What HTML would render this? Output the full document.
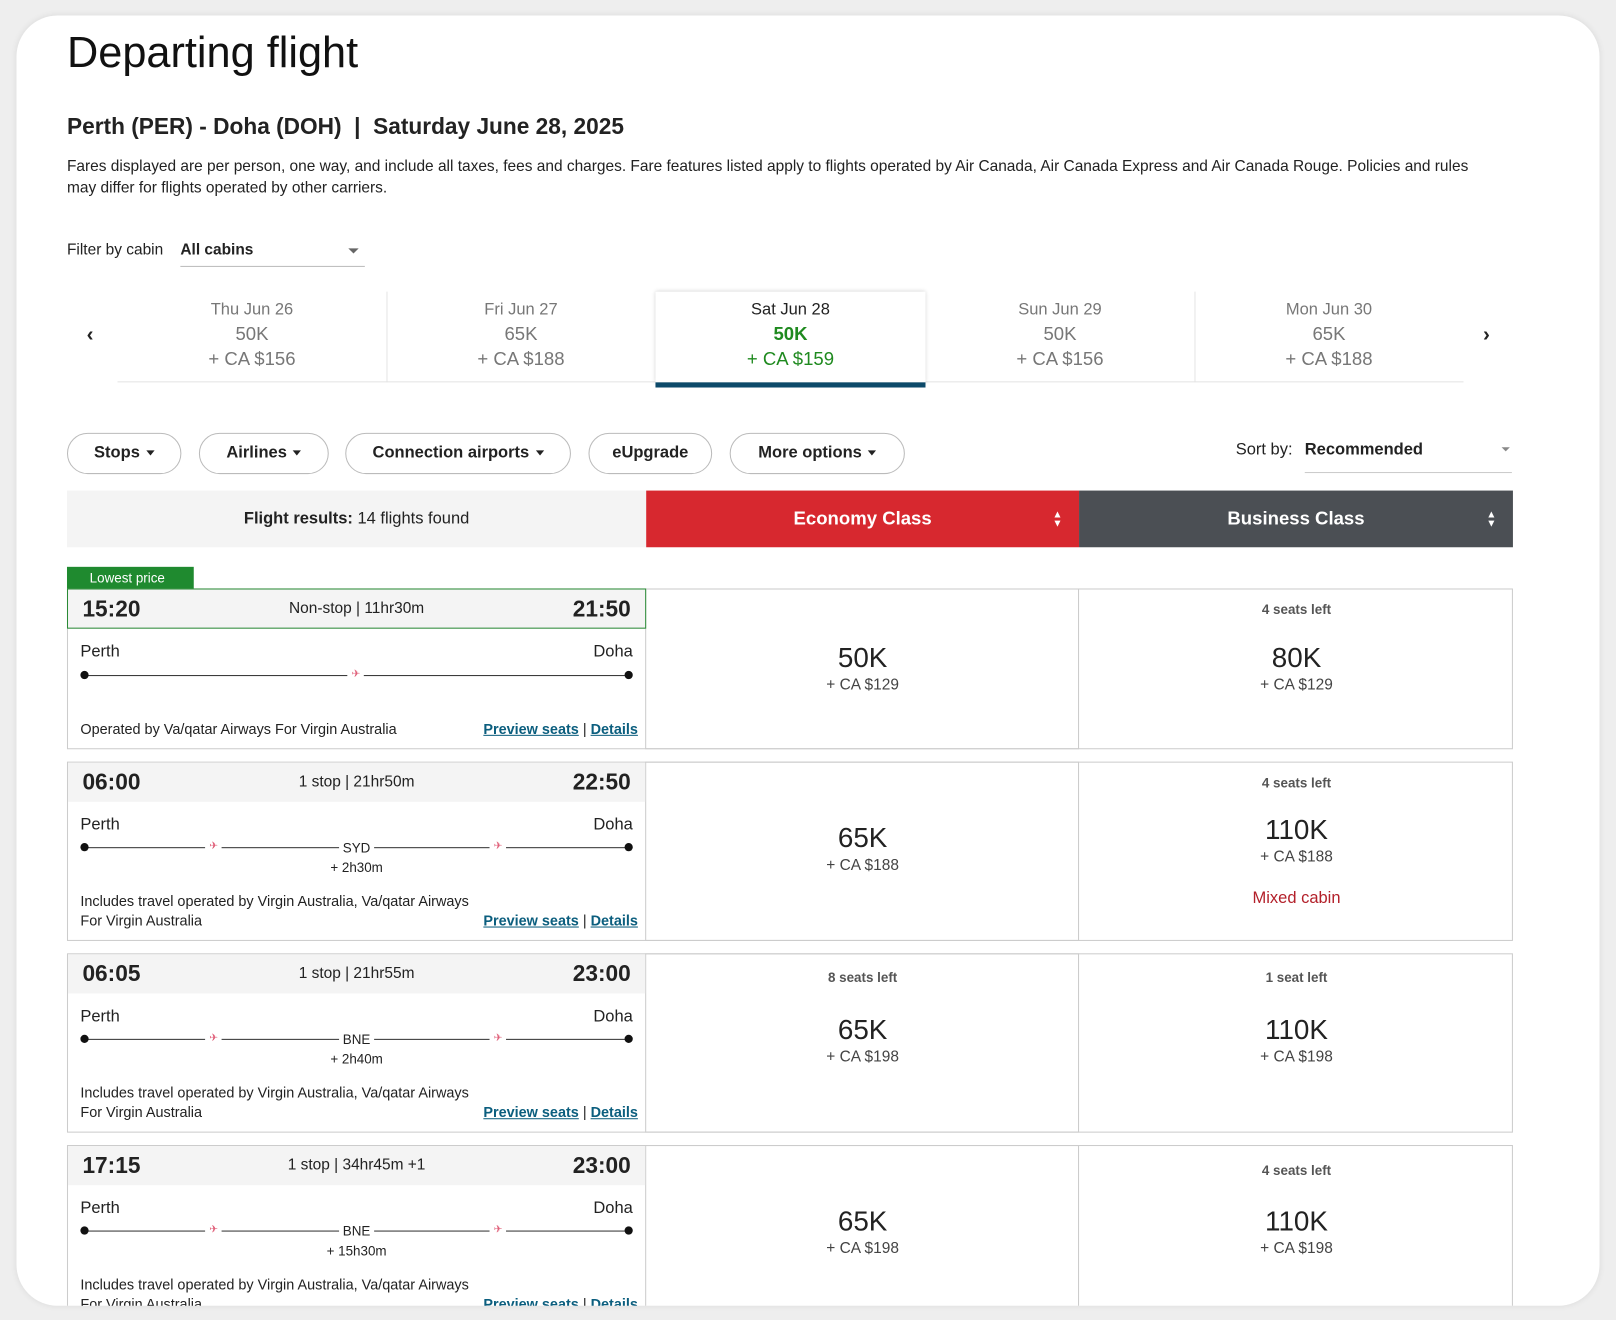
<!DOCTYPE html>
<html><head><meta charset="utf-8">
<style>
html,body{margin:0;padding:0;width:1616px;height:1320px;overflow:hidden;background:#eeeeee;font-family:"Liberation Sans",sans-serif;color:#222}
#s{position:absolute;left:0;top:0;width:1568px;height:1281px;transform:scale(1.03061);transform-origin:0 0}
#clip{position:absolute;left:16px;top:15px;width:1536px;height:1252px;background:#fff;border-radius:40px;overflow:hidden;box-shadow:0 0 6px rgba(0,0,0,.08)}
#in{position:absolute;left:-16px;top:-15px;width:1568px;height:1281px}
.a{position:absolute;white-space:nowrap}
.tab{position:absolute;top:283px;width:261px;height:88px;text-align:center;color:#777;font-size:16px}
.tab div{position:absolute;left:0;right:0}
.btn{position:absolute;top:420px;height:38px;border:1px solid #bbb;border-radius:20px;font-size:16px;font-weight:bold;line-height:38px;text-align:center;color:#222}
.caret{display:inline-block;border-left:4px solid transparent;border-right:4px solid transparent;border-top:5px solid #222;vertical-align:middle;margin-left:6px}
.row{position:absolute;left:65px;width:1403px}
.box{position:absolute;border:1px solid #ccc;box-sizing:border-box}
.strip{position:absolute;left:1px;top:1px;width:560px;height:38px;background:#f4f4f4}
.t{position:absolute;top:8px;font-size:22px;font-weight:bold;line-height:24px}
.mid{position:absolute;left:0;width:562px;top:10px;text-align:center;font-size:15px;line-height:20px}
.city{position:absolute;font-size:16px;line-height:20px}
.ln{position:absolute;height:1px;background:#333}
.dot{position:absolute;width:8px;height:8px;border-radius:50%;background:#111}
.pl{position:absolute;color:#e0607a;font-size:10px;line-height:10px}
.sm{position:absolute;font-size:14px;line-height:18px}
.lk{color:#0b5e7e;text-decoration:underline;font-weight:bold}
.pr{position:absolute;width:420px;text-align:center}
.big{font-size:27px;line-height:36px}
.sub{font-size:15px;line-height:18px;color:#444}
.seat{font-size:13px;font-weight:bold;color:#555;line-height:16px}
</style></head><body>
<div id="s">
<div id="clip"><div id="in">
<div class="a" style="left:65px;top:26px;font-size:42px;line-height:50px;color:#111">Departing flight</div>
<div class="a" style="left:65px;top:110px;font-size:22px;font-weight:bold;line-height:26px">Perth (PER) - Doha (DOH) &nbsp;|&nbsp; Saturday June 28, 2025</div>
<div class="a" style="left:65px;top:151px;font-size:15px;line-height:21px;white-space:normal;width:1390px">Fares displayed are per person, one way, and include all taxes, fees and charges. Fare features listed apply to flights operated by Air Canada, Air Canada Express and Air Canada Rouge. Policies and rules may differ for flights operated by other carriers.</div>
<div class="a" style="left:65px;top:234px;font-size:15px;line-height:18px">Filter by cabin</div>
<div class="a" style="left:175px;top:232px;width:179px;height:26px;border-bottom:1px solid #bbb;font-size:15px;font-weight:bold;line-height:22px">All cabins<span class="a" style="right:6px;top:9px;border-left:5px solid transparent;border-right:5px solid transparent;border-top:5px solid #666"></span></div>

<div class="a" style="left:84px;top:314px;font-size:20px;font-weight:bold">‹</div>
<div class="a" style="left:1439px;top:314px;font-size:20px;font-weight:bold">›</div>
<div class="a" style="left:114px;top:370px;width:1306px;height:1px;background:#e4e4e4"></div>
<div class="tab" style="left:114px;border-right:1px solid #e4e4e4"><div style="top:9px">Thu Jun 26</div><div style="top:31px;font-size:18px">50K</div><div style="top:55px;font-size:18px">+ CA $156</div></div>
<div class="tab" style="left:375px;border-right:1px solid #e4e4e4"><div style="top:9px">Fri Jun 27</div><div style="top:31px;font-size:18px">65K</div><div style="top:55px;font-size:18px">+ CA $188</div></div>
<div class="tab" style="left:636px;width:262px;background:#fff;box-shadow:0 0 4px rgba(0,0,0,.2);color:#222;height:88px"><div style="top:9px">Sat Jun 28</div><div style="top:31px;font-size:18px;color:#1f8a1f;font-weight:bold">50K</div><div style="top:55px;font-size:18px;color:#1f8a1f">+ CA $159</div><div style="top:88px;height:5px;background:#0d4a6a"></div></div>
<div class="tab" style="left:898px;border-right:1px solid #e4e4e4"><div style="top:9px">Sun Jun 29</div><div style="top:31px;font-size:18px">50K</div><div style="top:55px;font-size:18px">+ CA $156</div></div>
<div class="tab" style="left:1159px"><div style="top:9px">Mon Jun 30</div><div style="top:31px;font-size:18px">65K</div><div style="top:55px;font-size:18px">+ CA $188</div></div>

<div class="btn" style="left:65px;width:109px">Stops<span class="caret"></span></div>
<div class="btn" style="left:193px;width:124px">Airlines<span class="caret"></span></div>
<div class="btn" style="left:335px;width:217px">Connection airports<span class="caret"></span></div>
<div class="btn" style="left:571px;width:118px">eUpgrade</div>
<div class="btn" style="left:708px;width:168px">More options<span class="caret"></span></div>
<div class="a" style="left:1199px;top:428px;font-size:16px">Sort by:</div>
<div class="a" style="left:1266px;top:428px;width:201px;height:30px;border-bottom:1px solid #ccc;font-size:16px;font-weight:bold">Recommended<span class="a" style="right:2px;top:6px;border-left:4px solid transparent;border-right:4px solid transparent;border-top:4px solid #888"></span></div>

<div class="a" style="left:65px;top:476px;width:562px;height:55px;background:#f4f4f4;text-align:center;line-height:55px;font-size:16px"><b>Flight results:</b> 14 flights found</div>
<div class="a" style="left:627px;top:476px;width:420px;height:55px;background:#d7282f;color:#fff;text-align:center;line-height:55px;font-size:18px;font-weight:bold">Economy Class<span class="a" style="right:16px;top:0;font-size:10px;line-height:9px;padding-top:19px">▲<br>▼</span></div>
<div class="a" style="left:1047px;top:476px;width:421px;height:55px;background:#4b4f54;color:#fff;text-align:center;line-height:55px;font-size:18px;font-weight:bold">Business Class<span class="a" style="right:16px;top:0;font-size:10px;line-height:9px;padding-top:19px">▲<br>▼</span></div>

<!-- Row 1 -->
<div class="a" style="left:65px;top:550px;width:123px;height:21px;background:#1f8a2f;color:#fff;font-size:13px;line-height:21px;text-indent:22px">Lowest price</div>
<div class="row" style="top:571px;height:156px">
<div class="box" style="left:0;top:0;width:1403px;height:156px"></div>
<div class="box" style="left:561px;top:0;width:421px;height:156px"></div>
<div class="strip" style="left:0;top:0;width:562px;height:39px;border:1px solid #2a8a35;box-sizing:border-box"></div>
<div class="t" style="left:15px">15:20</div>
<div class="mid">Non-stop | 11hr30m</div>
<div class="t" style="right:856px">21:50</div>
<div class="city" style="left:13px;top:52px">Perth</div><div class="city" style="left:490px;width:59px;text-align:right;top:52px">Doha</div>
<div class="ln" style="left:17px;top:84px;width:528px"></div><div class="dot" style="left:13px;top:80px"></div><div class="dot" style="left:541px;top:80px"></div>
<div class="pl" style="left:272px;top:79px;background:#fff;padding:0 4px">✈</div>
<div class="sm" style="left:13px;top:127px">Operated by Va/qatar Airways For Virgin Australia</div>
<div class="sm" style="left:404px;top:127px"><span class="lk">Preview seats</span> | <span class="lk">Details</span></div>
<div class="pr" style="left:562px;top:49px"><div class="big">50K</div><div class="sub">+ CA $129</div></div>
<div class="pr" style="left:983px;top:13px"><div class="seat">4 seats left</div><div class="big" style="margin-top:20px">80K</div><div class="sub">+ CA $129</div></div>
</div>

<!-- Row 2 -->
<div class="row" style="top:739px;height:174px">
<div class="box" style="left:0;top:0;width:1403px;height:174px"></div>
<div class="box" style="left:561px;top:0;width:421px;height:174px"></div>
<div class="strip"></div>
<div class="t" style="left:15px">06:00</div><div class="mid">1 stop | 21hr50m</div><div class="t" style="right:856px">22:50</div>
<div class="city" style="left:13px;top:52px">Perth</div><div class="city" style="left:490px;width:59px;text-align:right;top:52px">Doha</div>
<div class="ln" style="left:17px;top:83px;width:528px"></div><div class="dot" style="left:13px;top:79px"></div><div class="dot" style="left:541px;top:79px"></div>
<div class="pl" style="left:134px;top:78px;background:#fff;padding:0 4px">✈</div><div class="pl" style="left:410px;top:78px;background:#fff;padding:0 4px">✈</div>
<div class="sm" style="left:264px;top:75px;background:#fff;width:34px;text-align:center;font-size:13px">SYD</div>
<div class="sm" style="left:231px;top:94px;width:100px;text-align:center;font-size:13px">+ 2h30m</div>
<div class="sm" style="left:13px;top:126px">Includes travel operated by Virgin Australia, Va/qatar Airways</div>
<div class="sm" style="left:13px;top:145px">For Virgin Australia</div>
<div class="sm" style="left:404px;top:145px"><span class="lk">Preview seats</span> | <span class="lk">Details</span></div>
<div class="pr" style="left:562px;top:56px"><div class="big">65K</div><div class="sub">+ CA $188</div></div>
<div class="pr" style="left:983px;top:13px"><div class="seat">4 seats left</div><div class="big" style="margin-top:19px">110K</div><div class="sub">+ CA $188</div><div class="sub" style="color:#b3202a;margin-top:22px;font-size:16px">Mixed cabin</div></div>
</div>

<!-- Row 3 -->
<div class="row" style="top:925px;height:174px">
<div class="box" style="left:0;top:0;width:1403px;height:174px"></div>
<div class="box" style="left:561px;top:0;width:421px;height:174px"></div>
<div class="strip"></div>
<div class="t" style="left:15px">06:05</div><div class="mid">1 stop | 21hr55m</div><div class="t" style="right:856px">23:00</div>
<div class="city" style="left:13px;top:52px">Perth</div><div class="city" style="left:490px;width:59px;text-align:right;top:52px">Doha</div>
<div class="ln" style="left:17px;top:83px;width:528px"></div><div class="dot" style="left:13px;top:79px"></div><div class="dot" style="left:541px;top:79px"></div>
<div class="pl" style="left:134px;top:78px;background:#fff;padding:0 4px">✈</div><div class="pl" style="left:410px;top:78px;background:#fff;padding:0 4px">✈</div>
<div class="sm" style="left:264px;top:75px;background:#fff;width:34px;text-align:center;font-size:13px">BNE</div>
<div class="sm" style="left:231px;top:94px;width:100px;text-align:center;font-size:13px">+ 2h40m</div>
<div class="sm" style="left:13px;top:126px">Includes travel operated by Virgin Australia, Va/qatar Airways</div>
<div class="sm" style="left:13px;top:145px">For Virgin Australia</div>
<div class="sm" style="left:404px;top:145px"><span class="lk">Preview seats</span> | <span class="lk">Details</span></div>
<div class="pr" style="left:562px;top:16px"><div class="seat">8 seats left</div><div class="big" style="margin-top:24px">65K</div><div class="sub">+ CA $198</div></div>
<div class="pr" style="left:983px;top:16px"><div class="seat">1 seat left</div><div class="big" style="margin-top:24px">110K</div><div class="sub">+ CA $198</div></div>
</div>

<!-- Row 4 -->
<div class="row" style="top:1111px;height:174px">
<div class="box" style="left:0;top:0;width:1403px;height:174px"></div>
<div class="box" style="left:561px;top:0;width:421px;height:174px"></div>
<div class="strip"></div>
<div class="t" style="left:15px">17:15</div><div class="mid">1 stop | 34hr45m +1</div><div class="t" style="right:856px">23:00</div>
<div class="city" style="left:13px;top:52px">Perth</div><div class="city" style="left:490px;width:59px;text-align:right;top:52px">Doha</div>
<div class="ln" style="left:17px;top:83px;width:528px"></div><div class="dot" style="left:13px;top:79px"></div><div class="dot" style="left:541px;top:79px"></div>
<div class="pl" style="left:134px;top:78px;background:#fff;padding:0 4px">✈</div><div class="pl" style="left:410px;top:78px;background:#fff;padding:0 4px">✈</div>
<div class="sm" style="left:264px;top:75px;background:#fff;width:34px;text-align:center;font-size:13px">BNE</div>
<div class="sm" style="left:231px;top:94px;width:100px;text-align:center;font-size:13px">+ 15h30m</div>
<div class="sm" style="left:13px;top:126px">Includes travel operated by Virgin Australia, Va/qatar Airways</div>
<div class="sm" style="left:13px;top:145px">For Virgin Australia</div>
<div class="sm" style="left:404px;top:145px"><span class="lk">Preview seats</span> | <span class="lk">Details</span></div>
<div class="pr" style="left:562px;top:56px"><div class="big">65K</div><div class="sub">+ CA $198</div></div>
<div class="pr" style="left:983px;top:17px"><div class="seat">4 seats left</div><div class="big" style="margin-top:23px">110K</div><div class="sub">+ CA $198</div></div>
</div>
</div></div>
</div>
</body></html>
